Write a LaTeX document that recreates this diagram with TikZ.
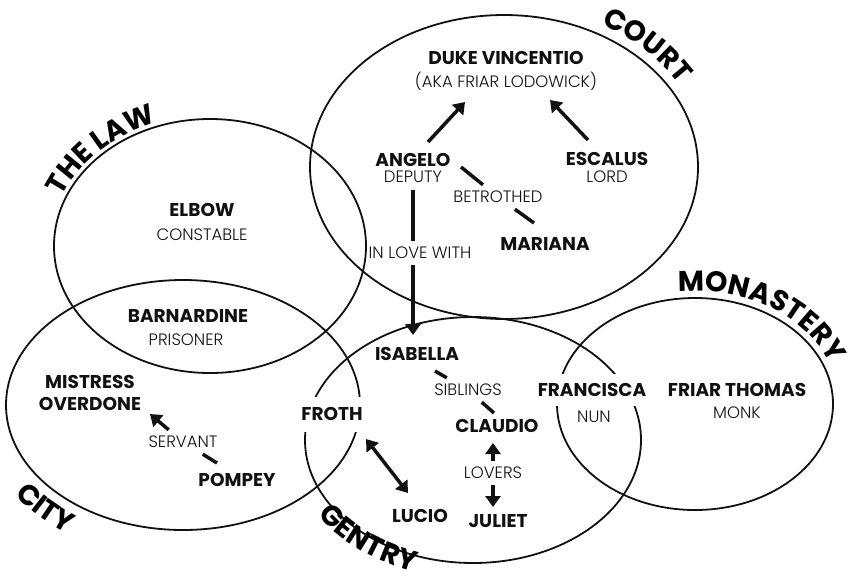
\documentclass[tikz,border=0pt]{standalone}
\usepackage{fontspec}
\usetikzlibrary{arrows.meta,calc,decorations.text}
\newfontfamily\popB{Poppins Bold}
\newfontfamily\popL{Poppins Light}
\newcommand\nmf{\popB\fontsize{18.5}{21}\selectfont}
\newcommand\rlf{\popL\fontsize{16.5}{19}\selectfont}
\newcommand\lbf{\popB\fontsize{28.5}{30}\selectfont}
\definecolor{ink}{HTML}{111111}
\tikzset{
 nm/.style={font=\nmf, text=ink, inner sep=0pt, text height=13pt, text depth=0pt},
 rl/.style={font=\rlf, text=ink, inner sep=0pt, text height=11.5pt, text depth=0pt},
 lab/.style={rl, inner xsep=3pt, inner ysep=6.25pt},
 knock/.style={fill=white, inner xsep=4pt},
 grp/.style={draw=ink, line width=1.8pt},
 rel/.style={draw=ink, line width=3.5pt},
 arr/.style={rel, -{Triangle[length=11pt,width=15pt]}},
 arrboth/.style={rel, {Triangle[length=11pt,width=15pt]}-{Triangle[length=11pt,width=15pt]}},
}
\begin{document}
\begin{tikzpicture}[x=1pt,y=-1pt]
\useasboundingbox (0,0) rectangle (848,582);
% groups
\draw[grp] (504,167) ellipse [x radius=194, y radius=152];
\draw[grp] (210,246) ellipse [x radius=156, y radius=127];
\draw[grp] (183,405) ellipse [x radius=177, y radius=125];
\draw[grp] (473,440) ellipse [x radius=168, y radius=123];
\draw[grp] (695,404) ellipse [x radius=138, y radius=106];
% group labels
\path[decorate, decoration={text along path, text align=center, text={|\lbf|COURT}}]
  ($(504,167)+(285:204 and 162)$) arc [start angle=285, end angle=345, x radius=204, y radius=162];
\path[decorate, decoration={text along path, text align=center, text={|\lbf|THE LAW}}]
  ($(210,246)+(196:160 and 131)$) arc [start angle=196, end angle=256, x radius=160, y radius=131];
\path[decorate, decoration={text along path, text align=center, text={|\lbf|MONASTERY}}]
  ($(695,404)+(266:145 and 113)$) arc [start angle=266, end angle=336, x radius=145, y radius=113];
\path[decorate, decoration={text along path, text align=center, text={|\lbf|CITY}}]
  ($(183,405)+(166:207 and 155)$) arc [start angle=166, end angle=106, x radius=207, y radius=155];
\path[decorate, decoration={text along path, text align=center, text={|\lbf|GENTRY}}]
  ($(473,440)+(159:185 and 139)$) arc [start angle=159, end angle=99, x radius=185, y radius=139];
% characters
\node[nm] (duke) at (506,58) {DUKE VINCENTIO};
\node[rl] (aka) at (506,82) {(AKA FRIAR LODOWICK)};
\node[nm] (angelo) at (413,160) {ANGELO};
\node[rl] (deputy) at (413,177) {DEPUTY};
\node[nm] (escalus) at (607,159) {ESCALUS};
\node[rl] (lord) at (607,177) {LORD};
\node[nm] (mariana) at (545,244) {MARIANA};
\node[nm] (elbow) at (202,210) {ELBOW};
\node[rl] (constable) at (202,235) {CONSTABLE};
\node[nm] (barnardine) at (188,316) {BARNARDINE};
\node[rl] (prisoner) at (186,340) {PRISONER};
\node[nm] (mistress) at (90,382) {MISTRESS};
\node[nm] (overdone) at (90,404) {OVERDONE};
\node[nm] (pompey) at (237,480) {POMPEY};
\node[nm, knock, inner ysep=11pt] (froth) at (332,414) {FROTH};
\node[nm] (lucio) at (420,516) {LUCIO};
\node[nm] (isabella) at (417,354) {ISABELLA};
\node[nm] (claudio) at (497,426) {CLAUDIO};
\node[nm] (juliet) at (498,521) {JULIET};
\node[nm, knock, inner ysep=9.5pt] (francisca) at (592,390) {FRANCISCA};
\node[rl] (nun) at (594,417) {NUN};
\node[nm] (thomas) at (737,390) {FRIAR THOMAS};
\node[rl] (monk) at (737,413) {MONK};
% relation labels
\node[lab] (betrothed) at (498,197) {BETROTHED};
\node[lab] (inlove) at (420,253) {IN LOVE WITH};
\node[lab] (siblings) at (468,390) {SIBLINGS};
\node[lab] (lovers) at (493,473) {LOVERS};
\node[lab] (servant) at (183,442) {SERVANT};
% relations
\draw[arr] ($(angelo)+(15,-18)$) -- ($(duke)+(-41,44)$);
\draw[arr] ($(escalus)+(-19,-19)$) -- ($(duke)+(44,42)$);
\draw[rel] ($(angelo)+(48,7)$) -- (betrothed);
\draw[rel] (betrothed) -- ($(mariana)+(-11,-21)$);
\draw[rel] ($(angelo)+(0,30)$) -- (angelo |- inlove.north);
\draw[arr] (angelo |- inlove.south) -- ($(isabella)+(-4,-19)$);
\draw[rel] ($(isabella)+(18,17)$) -- (siblings);
\draw[rel] (siblings) -- ($(claudio)+(-3,-13)$);
\draw[arr] (lovers) -- ($(claudio)+(-4,17)$);
\draw[arr] (lovers) -- ($(juliet)+(-5,-14)$);
\draw[arrboth] ($(froth)+(34,25)$) -- ($(lucio)+(-12,-23)$);
\draw[rel] ($(pompey)+(-20,-17)$) -- (servant);
\draw[arr] (servant) -- ($(overdone)+(60,10)$);
\end{tikzpicture}
\end{document}
